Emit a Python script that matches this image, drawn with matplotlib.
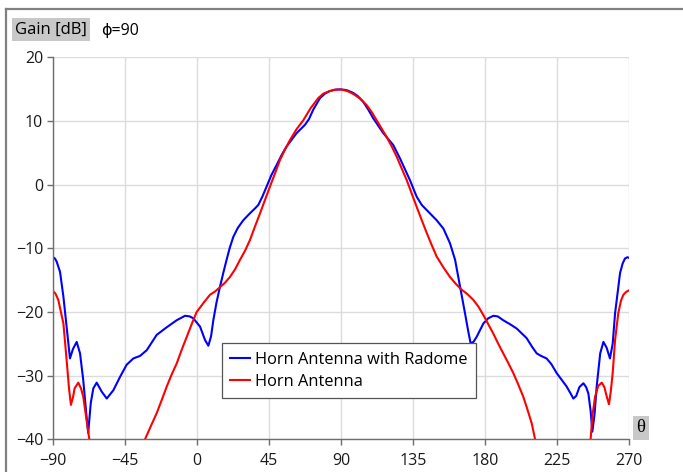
import numpy as np
import matplotlib.pyplot as plt
from matplotlib.lines import Line2D

# Horn antenna with radome (blue)
radome_theta = [-90, -88.8, -87.7, -85.6, -83.5, -81.5, -79.4, -77.5, -75.2, -73.1, -71.1, -69,
                -68, -66.4, -64.8, -62.7, -59.6, -56.4, -52.3, -48.1, -44, -39.8, -35.6,
                -31.4, -25.2, -18.9, -12.7, -7.5, -4.5, -2.3, 1.9, 5, 7.1, 8.8, 10.2, 12.2,
                14.4, 16.5, 18.5, 20.5, 22.7, 25.5, 28.9, 33.1, 36, 38.3, 41, 43.5, 46.5,
                49.8, 53, 56, 62.3, 67.5, 70, 72.7, 76.9, 80, 83, 86, 88, 90, 92, 94, 97.7,
                100.5, 103.9, 107, 110.2, 116.4, 122.7, 126.9, 130, 133.1, 137.3, 140.5,
                143.6, 149.8, 154, 158.1, 161.3, 164.4, 167.5, 169.5, 171, 172.8, 174.8,
                179, 182, 185.2, 188, 191.4, 195.5, 199.8, 206, 209.5, 212.3, 215,
                218.5, 221.5, 224.8, 231, 233.5, 235.2, 237, 239, 241.5, 243.2, 244.6,
                246, 247.1, 248.5, 249.8, 252, 254, 256, 258.1, 259.8, 261.3, 264.4,
                266, 267.5, 269, 270]
radome_gain = [-11.4, -11.6, -12.1, -13.7, -17.6, -22.3, -27.3, -25.8, -24.7, -26.5, -30.7,
               -36.5, -39, -34.3, -32, -31.1, -32.5, -33.6, -32.3, -30.2, -28.3, -27.3,
               -26.9, -26, -23.6, -22.4, -21.3, -20.6, -20.7, -21, -22.3, -24.4, -25.3,
               -23.8, -21.3, -18.5, -16, -13.8, -11.8, -9.9, -8.2, -6.8, -5.6, -4.5, -3.8,
               -3.2, -1.8, -0.3, 1.5, 3.1, 4.7, 6.0, 8.1, 9.4, 10.3, 11.8, 13.6, 14.3,
               14.7, 14.9, 14.95, 14.95, 14.9, 14.8, 14.4, 13.9, 13.0, 11.8, 10.4, 8.1,
               6.2, 4.1, 2.4, 0.7, -1.9, -3.2, -4.0, -5.6, -6.9, -9.2, -11.8, -16, -20.2,
               -23.0, -24.9, -24.7, -23.9, -21.8, -21.0, -20.6, -20.7, -21.3, -21.9,
               -22.6, -24.1, -25.5, -26.5, -26.9, -27.3, -28.2, -29.6, -31.7, -32.8,
               -33.6, -33.2, -31.8, -31.2, -31.8, -32.8, -35.5, -38.8, -36.0, -31.7,
               -26.5, -24.7, -25.6, -27.3, -25.0, -20.2, -13.9, -12.4, -11.6, -11.4, -11.5]

# Horn antenna without radome (red)
horn_theta = [-90, -88.5, -86.7, -83.5, -81.5, -80, -78.8, -77.5, -76.5, -74.2, -72.5, -71.1,
              -69, -67.3, -66.5, np.nan, -33.5, -32.5, -28.8, -25.2, -22, -18.9, -15.8,
              -12.7, -9.5, -6.4, -3.3, -0.2, 4, 8.1, 11.2, 14.4, 17.5, 20.6, 23.8, 26.9,
              30, 33.1, 36.2, 39.4, 42.5, 45.6, 48.8, 51.9, 55, 58.1, 62.2, 66.4, 71,
              75.8, 79, 82, 86, 90, 94, 98, 102, 106, 109.2, 112.3, 115.4, 118.5, 121.7,
              124.8, 128, 131.1, 134.2, 137.3, 140.5, 143.6, 146.7, 149.8, 154, 158.1,
              161.8, 165.4, 169, 172.7, 176, 179, 182, 185.2, 188.3, 191.4, 194.5, 197.7,
              200.8, 203.9, 206.5, 209.2, 211.3, 212.5, np.nan, 245, 246, 247.3, 248.8,
              250.8, 253, 254.6, 256.1, 257.5, 258.6, 259.8, 261.3, 263.3, 265, 266.5,
              268, 269.2, 270]
horn_gain = [-16.7, -17.1, -18.1, -21.8, -27.5, -32.0, -34.6, -33.4, -32, -31.1, -32.0,
             -33.3, -37, -40, -42, np.nan, -42, -40, -37.9, -35.9, -33.8, -31.7, -29.8,
             -28.1, -25.9, -23.9, -21.9, -20, -18.6, -17.3, -16.8, -16.1, -15.4, -14.5,
             -13.3, -11.8, -10.4, -8.7, -6.6, -4.5, -2.4, -0.3, 1.8, 3.9, 5.5, 7.0, 8.7,
             10.1, 12.0, 13.6, 14.3, 14.6, 14.9, 14.95, 14.7, 14.2, 13.5, 12.5, 11.4,
             10.1, 8.8, 7.5, 6.0, 4.4, 2.5, 0.7, -1.4, -3.5, -5.6, -7.6, -9.5, -11.3,
             -13.0, -14.5, -15.6, -16.5, -17.2, -18.1, -19.2, -20.5, -21.9, -23.4, -25.0,
             -26.5, -28.0, -29.6, -31.4, -33.3, -35.3, -37.5, -40, -42, np.nan, -42, -40,
             -36.0, -33.3, -31.6, -31.1, -31.8, -33.3, -34.5, -32.5, -29.6, -24.4, -20.2,
             -18.2, -17.3, -16.9, -16.7, -16.6]

x_ticks = [-90, -45, 0, 45, 90, 135, 180, 225, 270]
y_ticks = [-40, -30, -20, -10, 0, 10, 20]

plt.rcParams['font.family'] = ['Open Sans', 'DejaVu Sans']

W, H = 683, 472
fig = plt.figure(figsize=(W / 100, H / 100), dpi=100)
ax = fig.add_axes([53 / W, 1 - 439.3 / H, 576 / W, 382 / H])

ax.plot(radome_theta, radome_gain, color='#0000ff', lw=1.5,
        label='Horn Antenna with Radome')
ax.plot(horn_theta, horn_gain, color='#ff0000', lw=1.5, label='Horn Antenna')

ax.set_xlim(-90, 270)
ax.set_ylim(-40, 20)
ax.set_xticks(x_ticks)
ax.set_yticks(y_ticks)
ax.grid(True, color='#dcdcdc', lw=1.0)
ax.set_axisbelow(True)
for s in ['top', 'right']:
    ax.spines[s].set_visible(False)
for s in ['left', 'bottom']:
    ax.spines[s].set_color('#6e6e6e')
    ax.spines[s].set_linewidth(1.0)
ax.tick_params(colors='#6e6e6e', length=4, width=1, labelcolor='#1a1a1a',
               labelsize=11.5)
ax.tick_params(axis='x', pad=6)
ax.tick_params(axis='y', pad=3)

leg = ax.legend(loc='upper left', bbox_to_anchor=(0.293, 0.251), borderaxespad=0,
                fancybox=False, framealpha=1, edgecolor='#555555', fontsize=11.8,
                handlelength=1.2, handletextpad=0.35, borderpad=0.5, labelspacing=0.38)
leg.get_frame().set_linewidth(0.9)

fig.text(15 / W, 1 - 29.5 / H, 'Gain [dB]', fontsize=12, va='center', ha='left',
         bbox=dict(boxstyle='square,pad=0.2', fc='#c8c8c8', ec='none'))
fig.text(101 / W, 1 - 31 / H, '\u03d5=90', fontsize=11.5, va='center', ha='left')
fig.text(641 / W, 1 - 428 / H, '\u03b8', fontsize=13.5, va='center', ha='center',
         family=['Liberation Serif', 'DejaVu Serif'],
         bbox=dict(boxstyle='square,pad=0.2', fc='#c8c8c8', ec='none'))

# outer frame (top and left edges visible)
fig.add_artist(Line2D([6 / W, 1], [1 - 9 / H, 1 - 9 / H], color='#808080', lw=1.6))
fig.add_artist(Line2D([6 / W, 6 / W], [0, 1 - 9 / H], color='#808080', lw=1.6))

fig.savefig('out.png', dpi=100)
